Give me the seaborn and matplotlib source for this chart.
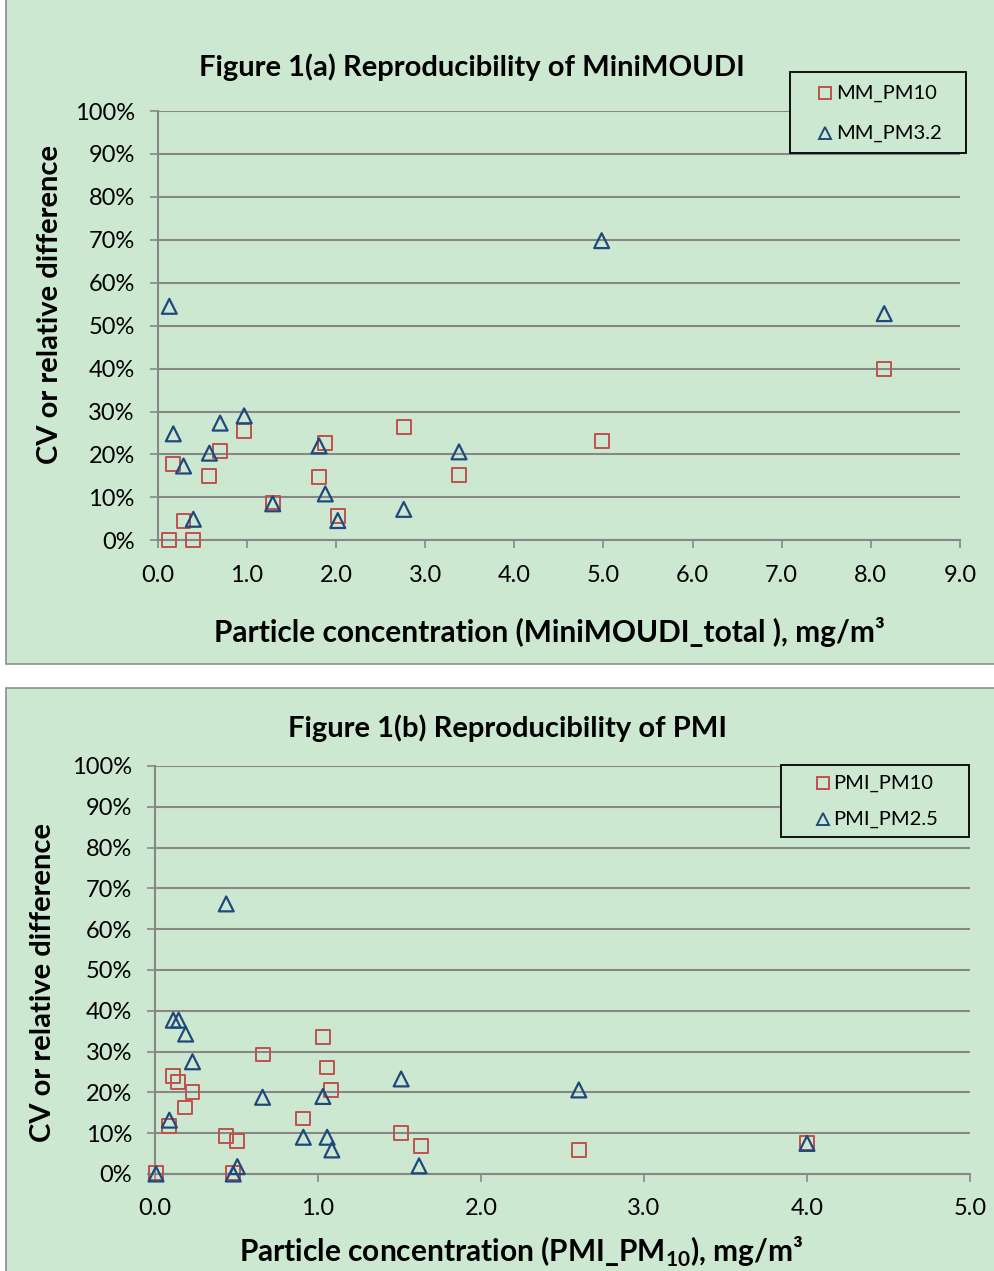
import numpy as np
import pandas as pd
import matplotlib
matplotlib.use("Agg")
import matplotlib.pyplot as plt
from matplotlib.patches import Rectangle
from matplotlib.lines import Line2D
from matplotlib.ticker import PercentFormatter, FormatStrFormatter, MultipleLocator
import seaborn as sns

# Figure 1(a) MiniMOUDI: concentration (mg/m3) vs CV (%)
mm_pm10_x = [0.13, 0.40, 0.29, 0.175, 0.58, 0.70, 0.97, 1.29, 1.81, 1.88, 2.02, 2.76, 3.38, 4.98, 8.15]
mm_pm10_y = [0.0, 0.0, 4.5, 17.7, 15.0, 20.7, 25.5, 8.8, 14.7, 22.6, 5.6, 26.4, 15.2, 23.1, 40.0]
mm_pm32_x = [0.13, 0.175, 0.29, 0.40, 0.58, 0.70, 0.97, 1.29, 1.81, 1.88, 2.02, 2.76, 3.38, 4.98, 8.15]
mm_pm32_y = [54.5, 24.8, 17.3, 4.9, 20.3, 27.3, 29.0, 8.5, 22.0, 10.8, 4.6, 7.2, 20.6, 69.8, 52.8]

# Figure 1(b) PMI
pmi_pm10_x = [0.006, 0.48, 0.086, 0.108, 0.143, 0.23, 0.185, 0.66, 0.436, 0.505, 1.03, 1.055, 1.08, 0.91, 1.51, 1.63, 2.60, 4.0]
pmi_pm10_y = [0.2, 0.3, 11.8, 24.1, 22.5, 20.1, 16.3, 29.3, 9.4, 8.1, 33.5, 26.1, 20.5, 13.6, 10.0, 6.9, 5.9, 7.5]
pmi_pm25_x = [0.006, 0.48, 0.505, 0.437, 0.112, 0.145, 0.188, 0.23, 0.088, 0.66, 1.03, 0.91, 1.056, 1.085, 1.51, 1.62, 2.60, 4.0]
pmi_pm25_y = [0.0, 0.0, 1.8, 66.2, 37.7, 37.7, 34.3, 27.5, 13.2, 18.8, 19.0, 9.0, 9.0, 5.9, 23.3, 2.0, 20.6, 7.5]

green = "#CDE8D0"
red = "#C0504D"
blue = "#1F497D"
grey = "#878787"
FONT = ["Lato", "DejaVu Sans"]

plt.rcParams["font.family"] = FONT
plt.rcParams["mathtext.fontset"] = "custom"
plt.rcParams["mathtext.rm"] = "Lato:bold"
plt.rcParams["mathtext.bf"] = "Lato:bold"

W, H = 995, 1271
fig = plt.figure(figsize=(W / 100, H / 100), dpi=100)
fig.patch.set_facecolor("white")

def fx(px):
    return px / W

def fy(py):
    return 1 - py / H

# panel backgrounds
fig.patches.append(Rectangle((fx(6), fy(664)), fx(995) - fx(6) + 0.01, fy(-2) - fy(664),
                             transform=fig.transFigure, facecolor=green, edgecolor="#8C8C8C", lw=1.2, zorder=-5))
fig.patches.append(Rectangle((fx(6), fy(1280)), fx(995) - fx(6) + 0.01, fy(688) - fy(1280),
                             transform=fig.transFigure, facecolor=green, edgecolor="#8C8C8C", lw=1.2, zorder=-5))


def style_axes(ax, xmax):
    ax.set_facecolor("none")
    ax.set_xlim(0, xmax)
    ax.set_ylim(0, 100)
    ax.yaxis.set_major_locator(MultipleLocator(10))
    ax.xaxis.set_major_locator(MultipleLocator(1))
    ax.yaxis.set_major_formatter(PercentFormatter(xmax=100, decimals=0))
    ax.xaxis.set_major_formatter(FormatStrFormatter("%.1f"))
    ax.grid(axis="y", color=grey, lw=1.5)
    ax.set_axisbelow(True)
    for s in ["top", "right"]:
        ax.spines[s].set_visible(False)
    for s in ["left", "bottom"]:
        ax.spines[s].set_color(grey)
        ax.spines[s].set_linewidth(1.5)
    ax.tick_params(axis="both", direction="out", length=5.5, width=1.2, color=grey,
                   labelsize=17, labelcolor="black")
    ax.tick_params(axis="y", pad=11)
    ax.tick_params(axis="x", pad=12)
    ax.set_xlabel("")
    ax.set_ylabel("")


def draw(ax, x1, y1, x2, y2):
    sns.scatterplot(x=x1, y=y1, marker="s", s=100, facecolor="none", edgecolor=red,
                    linewidth=1.4, ax=ax, legend=False, zorder=3, clip_on=False)
    sns.scatterplot(x=x2, y=y2, marker="^", s=115, facecolor="none", edgecolor=blue,
                    linewidth=1.6, ax=ax, legend=False, zorder=4, clip_on=False)


def legend_box(x0, y0, x1, y1, labels, row_y, marker_x, text_x):
    fig.patches.append(Rectangle((fx(x0), fy(y1)), fx(x1) - fx(x0), fy(y0) - fy(y1),
                                 transform=fig.transFigure, facecolor=green, edgecolor="black", lw=1.3, zorder=5))
    for lab, ry, mk, col in zip(labels, row_y, ["s", "^"], [red, blue]):
        fig.add_artist(Line2D([fx(marker_x)], [fy(ry)], transform=fig.transFigure, marker=mk,
                              ms=8.5 if mk == "s" else 9, mfc="none", mec=col, mew=1.4, ls="none", zorder=6))
        fig.text(fx(text_x), fy(ry), lab, ha="left", va="center", fontsize=14.5, zorder=6)


# ---- top panel
ax1 = fig.add_axes([fx(157.7), fy(540.3), fx(960) - fx(157.7), fy(111) - fy(540.3)])
draw(ax1, mm_pm10_x, mm_pm10_y, mm_pm32_x, mm_pm32_y)
style_axes(ax1, 9)
fig.text(fx(472), fy(67), "Figure 1(a) Reproducibility of MiniMOUDI", ha="center", va="center",
         fontsize=21, fontweight="bold")
fig.text(fx(50), fy(305), "CV or relative difference", ha="center", va="center", rotation=90,
         fontsize=21, fontweight="bold")
fig.text(fx(549), fy(632), "Particle concentration (MiniMOUDI_total ), mg/m³", ha="center", va="center",
         fontsize=21.5, fontweight="bold")
legend_box(790, 72, 966, 153, ["MM_PM10", "MM_PM3.2"], [93, 133], 825, 836)

# ---- bottom panel
ax2 = fig.add_axes([fx(155), fy(1174), fx(970) - fx(155), fy(766) - fy(1174)])
draw(ax2, pmi_pm10_x, pmi_pm10_y, pmi_pm25_x, pmi_pm25_y)
style_axes(ax2, 5)
fig.text(fx(507), fy(728), "Figure 1(b) Reproducibility of PMI", ha="center", va="center",
         fontsize=21, fontweight="bold")
fig.text(fx(43), fy(982), "CV or relative difference", ha="center", va="center", rotation=90,
         fontsize=21, fontweight="bold")
fig.text(fx(521), fy(1252), r"Particle concentration (PMI_PM$_{\mathrm{10}}$), mg/m³", ha="center", va="center",
         fontsize=21.5, fontweight="bold")
legend_box(781, 765, 969, 837, ["PMI_PM10", "PMI_PM2.5"], [783, 819], 823, 833)

fig.savefig("out.png", dpi=100, facecolor=fig.get_facecolor())
